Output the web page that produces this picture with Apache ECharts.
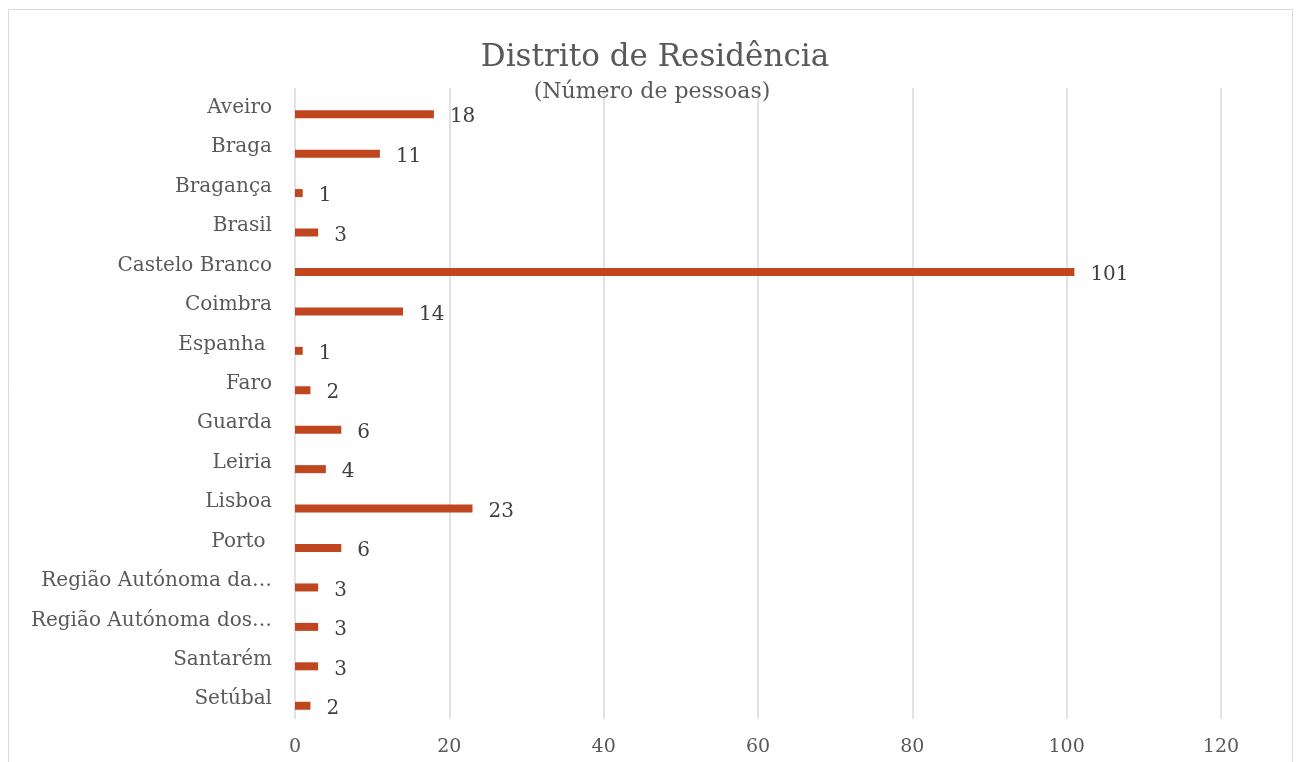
<!DOCTYPE html>
<html>
<head>
<meta charset="utf-8">
<script src="https://cdn.jsdelivr.net/npm/echarts@6/dist/echarts.min.js"></script>
<style>
  html, body { margin: 0; padding: 0; background: #ffffff; }
  #chart { width: 1297px; height: 762px; }
</style>
</head>
<body>
<div id="chart"></div>
<script>
const categories = [
  "Aveiro", "Braga", "Bragança", "Brasil", "Castelo Branco", "Coimbra",
  "Espanha ", "Faro", "Guarda", "Leiria", "Lisboa", "Porto ",
  "Região Autónoma da…", "Região Autónoma dos…", "Santarém", "Setúbal"
];
const pessoas = [18, 11, 1, 3, 101, 14, 1, 2, 6, 4, 23, 6, 3, 3, 3, 2];
const xTicks = { min: 0, max: 120, interval: 20 };
const titleText = "Distrito de Residência";
const subtitleText = "(Número de pessoas)";

const FONT = "DejaVu Serif";
const chart = echarts.init(document.getElementById('chart'), null, { renderer: 'canvas' });

chart.setOption({
  backgroundColor: '#ffffff',
  animation: false,
  graphic: [{
    type: 'rect',
    shape: { x: 8.5, y: 9.5, width: 1284, height: 800 },
    style: { fill: 'none', stroke: '#D9D9D9', lineWidth: 1 },
    silent: true
  }],
  title: [
    {
      text: titleText,
      left: 650, top: 37,
      textAlign: 'center',
      textStyle: { fontFamily: FONT, fontSize: 31, fontWeight: 'normal', color: '#595959' }
    },
    {
      text: subtitleText,
      left: 647, top: 76,
      textAlign: 'center',
      textStyle: { fontFamily: FONT, fontSize: 22, fontWeight: 'normal', color: '#595959' }
    }
  ],
  grid: { left: 295, right: 76, top: 88, bottom: 43, containLabel: false },
  xAxis: {
    type: 'value',
    min: xTicks.min, max: xTicks.max, interval: xTicks.interval,
    axisLine: { show: false },
    axisTick: { show: false },
    splitLine: { show: true, lineStyle: { color: '#D9D9D9', width: 1.5 } },
    axisLabel: { fontFamily: FONT, fontSize: 19, color: '#595959', margin: 19 }
  },
  yAxis: {
    type: 'category',
    data: categories,
    inverse: true,
    axisLine: { show: false },
    axisTick: { show: false },
    axisLabel: { fontFamily: FONT, fontSize: 20, color: '#595959', margin: 23 }
  },
  series: [
    {
      type: 'bar',
      name: 'spacer',
      data: categories.map(() => '-'),
      barWidth: 8,
      barGap: '62%',
      itemStyle: { color: 'transparent' },
      silent: true
    },
    {
      type: 'bar',
      name: 'Número de pessoas',
      data: pessoas,
      barWidth: 8,
      barGap: '62%',
      itemStyle: { color: '#C0461F' },
      label: {
        show: true,
        position: 'right',
        distance: 16,
        offset: [0, 3],
        fontFamily: FONT,
        fontSize: 20,
        color: '#404040'
      }
    }
  ]
});
</script>
</body>
</html>
